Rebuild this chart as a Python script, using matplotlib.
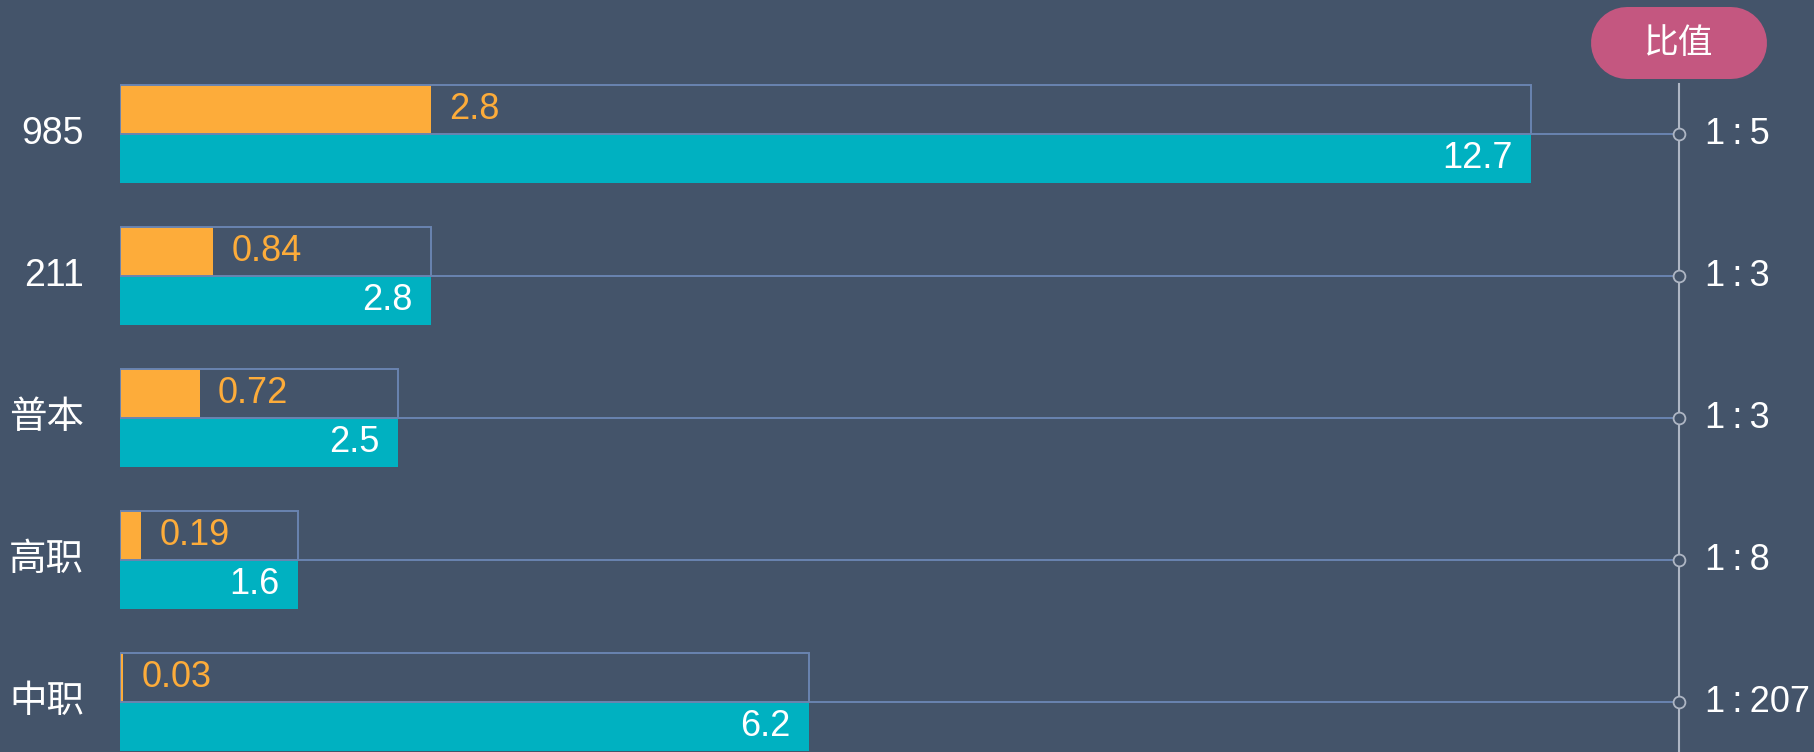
import matplotlib.pyplot as plt
from matplotlib.patches import Rectangle

plt.rcParams['font.family'] = ['Liberation Sans', 'Noto Sans CJK SC', 'DejaVu Sans']

# data
categories = ['985', '211', '普本', '高职', '中职']
orange_vals = [2.8, 0.84, 0.72, 0.19, 0.03]
teal_vals = [12.7, 2.8, 2.5, 1.6, 6.2]
ratios = ['1:5', '1:3', '1:3', '1:8', '1:207']
ratio_title = '比值'

bg = '#44546A'
c_orange = '#FDAC3A'
c_teal = '#00B1C1'
c_box = '#6A84B0'
c_axis = '#AEB6C4'
c_pill = '#C45780'

fig = plt.figure(figsize=(18.14, 7.52), dpi=100, facecolor=bg)
ax = fig.add_axes([120 / 1814, 0, 1 - 120 / 1814, 1])
ax.set_facecolor(bg)
xmax = 15.25
ax.set_xlim(0, xmax)
ax.set_ylim(4.352, -0.944)
ax.axis('off')

h = 0.345
ratio_x = 0.9203 * xmax

for i, cat in enumerate(categories):
    ax.barh(i - h / 2, orange_vals[i], height=h, color=c_orange, zorder=2)
    ax.barh(i + h / 2, teal_vals[i], height=h, color=c_teal, zorder=2)
    ax.add_patch(Rectangle((0, i - h), teal_vals[i], h, fill=False,
                           edgecolor=c_box, lw=1.4, zorder=3))
    ax.plot([teal_vals[i], ratio_x], [i, i], color=c_box, lw=1.4, zorder=1)
    ax.plot(ratio_x, i, 'o', ms=8.5, mfc=bg, mec=c_axis, mew=1.3, zorder=5)

    ax.annotate(cat, (0, i), xytext=(-26, 0), textcoords='offset points',
                ha='right', va='center', color='white', fontsize=27)
    ax.annotate(f'{orange_vals[i]:g}', (orange_vals[i], i - h / 2), xytext=(13, 0),
                textcoords='offset points', ha='left', va='center',
                color=c_orange, fontsize=26, zorder=4)
    ax.annotate(f'{teal_vals[i]:g}', (teal_vals[i], i + h / 2), xytext=(-13, 0),
                textcoords='offset points', ha='right', va='center',
                color='white', fontsize=26, zorder=4)
    ax.annotate(ratios[i].replace(':', '\u2009:\u2009'), (ratio_x, i), xytext=(19, 0),
                textcoords='offset points', ha='left', va='center',
                color='white', fontsize=26)

# vertical ratio axis
ax.plot([ratio_x, ratio_x], [-0.35, 4.352], color=c_axis, lw=1.5, zorder=4)

# pill title: a thick line with round caps (72 px tall, 176 px wide)
pill_h = 0.72
fig.add_artist(plt.Line2D([15.91 + pill_h / 2, 17.67 - pill_h / 2], [7.09, 7.09],
                          transform=fig.dpi_scale_trans, color=c_pill,
                          lw=pill_h * 72, solid_capstyle='round'))
fig.text(16.79, 7.09, ratio_title, transform=fig.dpi_scale_trans,
         ha='center', va='center', color='white', fontsize=25)

fig.savefig('out.png', dpi=100, facecolor=bg)
